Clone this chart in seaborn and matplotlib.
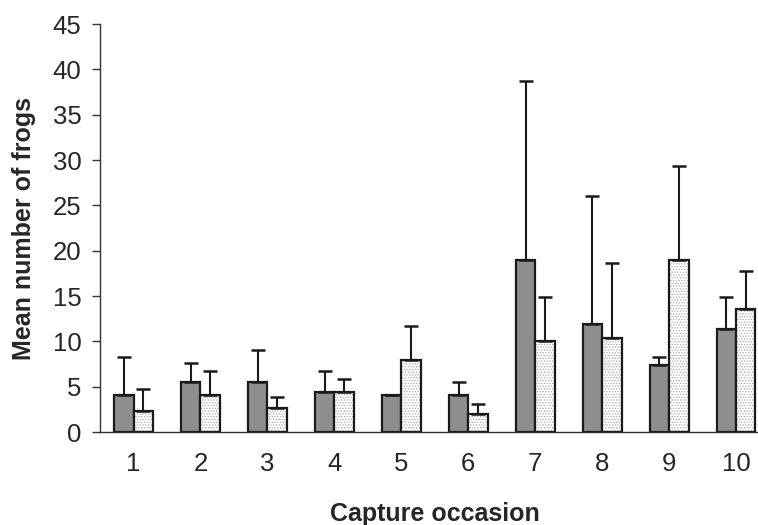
import numpy as np
import pandas as pd
import matplotlib
matplotlib.use('Agg')
import matplotlib.pyplot as plt
import seaborn as sns

# values
occasions = ['1', '2', '3', '4', '5', '6', '7', '8', '9', '10']
dark_mean = [4.1, 5.5, 5.5, 4.4, 4.1, 4.1, 19.0, 11.9, 7.4, 11.4]
dark_sd = [4.2, 2.1, 3.5, 2.3, 0.0, 1.4, 19.7, 14.1, 0.9, 3.5]
light_mean = [2.35, 4.1, 2.7, 4.4, 7.9, 2.0, 10.1, 10.4, 19.0, 13.6]
light_sd = [2.45, 2.6, 1.2, 1.4, 3.8, 1.05, 4.8, 8.2, 10.4, 4.2]
groups = ['Series 1', 'Series 2']

sns.set_style('white')
plt.rcParams['font.family'] = ['Liberation Sans', 'DejaVu Sans']
plt.rcParams['hatch.linewidth'] = 0.6

df = pd.DataFrame({
    'occasion': occasions * 2,
    'mean': dark_mean + light_mean,
    'group': [groups[0]] * len(occasions) + [groups[1]] * len(occasions),
})

fig, ax = plt.subplots(figsize=(7.58, 5.25), dpi=100)
# the plot area runs a little past the right edge, as in the original
fig.subplots_adjust(left=0.132, right=1.0152, bottom=0.177, top=0.954)

sns.barplot(data=df, x='occasion', y='mean', hue='group', order=occasions,
            hue_order=groups, palette=['#8e8e8e', 'white'], width=0.58,
            gap=0, errorbar=None, edgecolor='#1a1a1a', linewidth=1.6,
            legend=False, ax=ax)

n = len(occasions)
bars = ax.patches[:2 * n]
for p in bars[n:]:
    p.set_hatch('......')
    if hasattr(p, 'set_hatchcolor'):
        p.set_hatchcolor('#a8a8a8')
    else:
        p._hatch_color = (0.66, 0.66, 0.66, 1.0)

# upper error bars only
x_dark = [p.get_x() + p.get_width() / 2 for p in bars[:n]]
x_light = [p.get_x() + p.get_width() / 2 for p in bars[n:]]
for xs, m, sd in [(x_dark, dark_mean, dark_sd), (x_light, light_mean, light_sd)]:
    ax.errorbar(xs, m, yerr=[np.zeros(n), sd], fmt='none', ecolor='#1a1a1a',
                elinewidth=1.5, capsize=4.8, capthick=1.8, zorder=1)

ax.set_ylim(0, 45)
ax.set_yticks(range(0, 46, 5))
ax.set_xlim(-0.5, 9.5)

ax.set_xticks(np.arange(0.5, n - 0.5, 1), minor=True)
ax.tick_params(axis='x', which='major', length=0, pad=14, labelsize=18.5)
ax.tick_params(axis='x', which='minor', length=6, width=1, direction='out',
               color='#333333')
ax.tick_params(axis='y', length=5.5, width=1, direction='out', color='#333333',
               labelsize=18.5, left=True, pad=8)

sns.despine(ax=ax, top=True, right=True)
for s in ['left', 'bottom']:
    ax.spines[s].set_color('#333333')
    ax.spines[s].set_linewidth(1.0)

ax.set_xlabel('Capture occasion', fontsize=18, fontweight='bold', labelpad=19)
ax.set_ylabel('Mean number of frogs', fontsize=18, fontweight='bold', labelpad=12)

plt.savefig('out.png', dpi=100)
